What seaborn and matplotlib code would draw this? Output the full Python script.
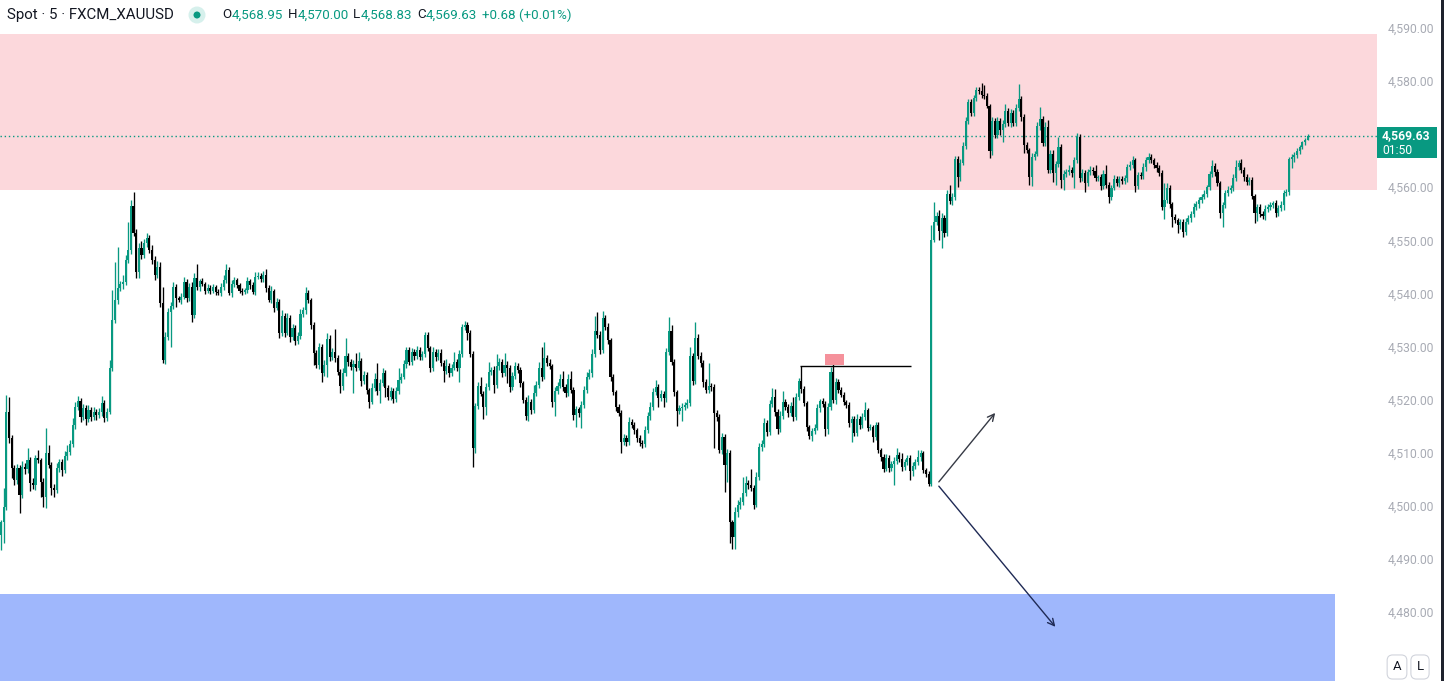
import numpy as np
import matplotlib
matplotlib.use("Agg")
import matplotlib.pyplot as plt
from matplotlib.patches import Rectangle, Ellipse
import seaborn as sns

# 5-minute XAUUSD closes left to right
closes = [
    4496.9, 4499.8, 4517.7, 4512.8, 4507.1, 4504.9, 4507.1, 4502.0, 4507.3, 4506.9,
    4508.6, 4504.3, 4503.9, 4509.0, 4508.6, 4504.5, 4501.7, 4509.9, 4507.7, 4503.4,
    4503.0, 4507.1, 4508.2, 4506.7, 4509.4, 4510.1, 4511.6, 4515.2, 4518.6, 4519.7,
    4516.7, 4518.4, 4516.3, 4518.0, 4516.7, 4517.7, 4517.1, 4517.7, 4519.4, 4516.5,
    4517.7, 4526.0, 4535.0, 4538.8, 4541.0, 4541.8, 4542.2, 4546.3, 4548.2, 4556.5,
    4551.4, 4544.0, 4548.6, 4547.2, 4549.5, 4550.4, 4548.2, 4546.3, 4543.5, 4545.0,
    4538.2, 4527.5, 4531.8, 4536.5, 4537.6, 4541.2, 4539.1, 4538.8, 4539.3, 4542.2,
    4539.1, 4541.2, 4535.9, 4542.9, 4541.2, 4542.3, 4541.8, 4540.5, 4541.0, 4540.5,
    4541.2, 4540.3, 4540.1, 4541.2, 4542.5, 4544.4, 4540.1, 4541.8, 4542.5, 4541.6,
    4540.5, 4540.3, 4540.6, 4542.3, 4541.6, 4540.3, 4543.1, 4543.3, 4542.7, 4543.5,
    4541.0, 4538.8, 4540.5, 4537.3, 4538.4, 4532.6, 4535.8, 4532.6, 4535.4, 4531.8,
    4533.5, 4531.0, 4532.0, 4536.1, 4536.9, 4540.1, 4538.8, 4534.1, 4528.8, 4526.5,
    4529.9, 4525.0, 4526.5, 4531.4, 4528.0, 4529.0, 4527.8, 4525.2, 4522.6, 4525.0,
    4528.2, 4527.1, 4526.2, 4526.7, 4526.0, 4527.3, 4523.5, 4524.6, 4521.8, 4519.6,
    4522.2, 4523.9, 4521.6, 4523.1, 4525.0, 4522.2, 4520.5, 4521.6, 4520.1, 4521.6,
    4523.7, 4524.3, 4526.7, 4529.4, 4527.1, 4529.0, 4528.2, 4529.4, 4528.0, 4528.6,
    4532.2, 4529.7, 4526.0, 4529.0, 4528.0, 4528.8, 4526.9, 4525.4, 4526.3, 4525.0,
    4526.0, 4527.1, 4526.0, 4528.6, 4533.7, 4534.1, 4532.6, 4528.6, 4510.9, 4518.8,
    4522.6, 4521.1, 4518.6, 4522.4, 4525.2, 4525.6, 4522.7, 4526.3, 4527.1, 4525.0,
    4526.5, 4526.0, 4522.4, 4524.4, 4526.3, 4525.6, 4523.1, 4519.9, 4516.9, 4519.6,
    4518.0, 4521.2, 4522.7, 4526.0, 4524.3, 4527.8, 4526.9, 4526.3, 4519.6, 4521.6,
    4522.6, 4523.9, 4522.4, 4521.2, 4523.9, 4521.8, 4517.1, 4518.2, 4517.5, 4519.0,
    4521.8, 4524.3, 4525.0, 4528.6, 4532.9, 4532.2, 4529.4, 4535.4, 4533.7, 4531.2,
    4524.3, 4521.4, 4518.6, 4517.5, 4512.0, 4512.8, 4512.0, 4515.8, 4515.2, 4514.3,
    4512.8, 4511.8, 4511.6, 4514.3, 4516.9, 4518.6, 4521.4, 4522.4, 4520.3, 4521.1,
    4520.3, 4529.0, 4532.9, 4527.1, 4521.4, 4517.9, 4518.4, 4518.6, 4519.0, 4519.4,
    4528.2, 4523.5, 4531.6, 4528.2, 4526.9, 4523.3, 4521.8, 4522.6, 4522.4, 4517.5,
    4516.7, 4510.5, 4513.0, 4507.7, 4510.0, 4497.0, 4494.1, 4498.8, 4500.2, 4500.7,
    4502.4, 4504.3, 4503.9, 4503.4, 4500.2, 4505.4, 4511.1, 4511.6, 4515.6, 4513.9,
    4519.2, 4520.5, 4517.7, 4514.5, 4516.9, 4519.6, 4518.6, 4517.5, 4518.8, 4516.7,
    4520.5, 4523.5, 4522.0, 4519.4, 4514.8, 4513.1, 4514.1, 4514.7, 4518.4, 4519.7,
    4519.2, 4514.5, 4518.6, 4525.2, 4519.9, 4523.3, 4521.8, 4520.9, 4519.6, 4519.0,
    4515.6, 4516.4, 4513.7, 4516.4, 4515.2, 4516.7, 4518.0, 4514.7, 4514.8, 4513.0,
    4515.2, 4510.5, 4509.2, 4507.0, 4509.0, 4507.1, 4507.9, 4508.4, 4509.6, 4508.8,
    4507.3, 4508.2, 4509.0, 4506.6, 4507.5, 4508.2, 4509.2, 4509.9, 4506.7, 4506.0,
    4504.1, 4550.1, 4553.5, 4554.6, 4551.8, 4554.2, 4551.4, 4558.7, 4557.4, 4558.2,
    4565.3, 4561.9, 4564.6, 4567.8, 4572.5, 4576.1, 4574.0, 4576.8, 4578.3, 4578.1,
    4577.4, 4577.2, 4575.3, 4566.8, 4572.5, 4569.8, 4572.5, 4570.8, 4571.9, 4574.4,
    4572.1, 4574.0, 4572.1, 4574.9, 4576.6, 4573.2, 4568.0, 4567.0, 4561.9, 4565.7,
    4566.3, 4571.5, 4572.9, 4568.3, 4571.4, 4563.3, 4566.3, 4562.7, 4564.4, 4567.6,
    4561.4, 4562.5, 4562.9, 4563.3, 4562.7, 4565.1, 4569.5, 4561.7, 4562.7, 4560.8,
    4562.9, 4563.3, 4563.1, 4561.7, 4561.9, 4560.2, 4562.5, 4560.4, 4558.2, 4559.9,
    4561.6, 4560.8, 4561.6, 4561.2, 4561.7, 4563.8, 4564.2, 4565.1, 4560.2, 4562.3,
    4562.1, 4563.8, 4565.1, 4565.7, 4565.1, 4564.2, 4563.6, 4562.7, 4556.3, 4557.6,
    4559.9, 4556.8, 4554.4, 4553.8, 4552.9, 4553.5, 4551.6, 4553.5, 4554.2, 4555.0,
    4556.3, 4556.8, 4557.6, 4558.2, 4558.7, 4560.0, 4562.5, 4564.0, 4562.9, 4560.8,
    4555.1, 4556.7, 4558.9, 4559.5, 4559.9, 4561.7, 4563.8, 4564.6, 4563.3, 4561.9,
    4561.0, 4561.4, 4558.4, 4555.1, 4556.3, 4555.0, 4554.6, 4555.9, 4556.3, 4556.7,
    4557.0, 4555.1, 4556.1, 4556.7, 4558.9, 4559.1, 4565.3, 4565.7, 4566.1, 4566.8,
    4567.6, 4568.5, 4568.95, 4569.63,
]
first_open = 4494.5

# wick length above / below each body
upper_wicks = [
    0.4, 3.6, 3.2, 2.8, 0.5, 0.6, 0.8, 0.5, 1.2, 0.8,
    2.3, 0.5, 0.9, 0.6, 1.5, 0.4, 0.7, 4.7, 1.5, 0.5,
    0.8, 1.0, 0.6, 0.7, 0.9, 1.3, 0.8, 1.4, 1.0, 0.9,
    0.6, 0.8, 0.5, 0.9, 0.7, 1.0, 0.6, 0.8, 1.2, 0.5,
    0.7, 1.5, 5.7, 7.2, 7.7, 0.5, 1.2, 0.9, 5.3, 1.1,
    2.6, 0.8, 0.9, 1.2, 0.8, 1.0, 0.6, 0.9, 0.7, 1.2,
    1.0, 3.0, 0.9, 0.8, 0.7, 0.9, 0.5, 0.4, 0.8, 0.9,
    0.6, 0.8, 1.0, 0.9, 2.6, 0.5, 0.6, 0.4, 0.7, 0.5,
    0.6, 0.4, 0.5, 0.8, 0.9, 1.1, 0.5, 0.7, 0.6, 0.5,
    0.4, 0.6, 0.5, 0.8, 0.4, 0.6, 0.9, 0.7, 0.5, 0.8,
    1.1, 0.5, 0.9, 0.4, 0.8, 0.6, 1.0, 0.5, 0.9, 0.6,
    0.8, 0.5, 0.7, 1.0, 0.6, 1.2, 0.5, 0.4, 0.6, 0.5,
    0.8, 0.6, 0.9, 1.1, 0.7, 0.8, 4.3, 0.6, 0.5, 0.9,
    3.4, 0.6, 0.5, 0.7, 2.1, 1.7, 0.5, 0.8, 0.6, 0.4,
    0.9, 1.1, 3.0, 0.7, 0.9, 0.5, 0.6, 0.8, 0.5, 0.7,
    2.3, 0.8, 0.7, 0.6, 0.5, 0.8, 0.6, 0.7, 0.5, 0.6,
    0.6, 0.5, 0.4, 0.9, 0.6, 0.7, 0.8, 0.5, 1.3, 0.6,
    0.7, 1.9, 0.5, 0.8, 0.6, 0.7, 0.5, 0.6, 0.5, 0.6,
    0.8, 1.7, 0.5, 0.7, 1.9, 0.6, 0.8, 2.3, 0.7, 0.6,
    2.3, 0.7, 0.5, 0.8, 0.8, 0.6, 0.5, 0.4, 0.5, 1.3,
    0.6, 1.5, 0.9, 1.1, 4.0, 3.0, 0.6, 0.7, 0.5, 0.8,
    0.7, 0.9, 1.5, 0.6, 0.9, 1.5, 0.5, 0.6, 0.5, 0.8,
    0.7, 0.9, 0.8, 1.0, 2.8, 3.6, 0.7, 1.3, 0.6, 0.8,
    0.5, 0.6, 0.4, 0.5, 0.6, 0.8, 0.5, 0.9, 0.6, 0.5,
    0.4, 0.6, 0.5, 0.8, 0.7, 0.9, 0.8, 1.3, 0.6, 0.7,
    0.6, 0.8, 2.6, 1.1, 0.5, 0.4, 0.6, 0.7, 0.5, 0.8,
    1.7, 0.6, 3.0, 0.8, 0.7, 0.5, 0.6, 4.3, 0.6, 0.5,
    0.6, 0.5, 0.8, 0.6, 0.7, 0.5, 0.4, 0.9, 0.8, 1.0,
    3.0, 1.3, 0.5, 3.0, 0.6, 0.9, 0.8, 0.7, 0.9, 0.6,
    0.8, 1.7, 1.5, 0.5, 0.9, 2.1, 0.6, 0.5, 0.7, 1.7,
    0.8, 0.6, 2.8, 0.5, 0.4, 0.5, 0.6, 0.8, 0.7, 0.5,
    0.6, 0.5, 0.8, 0.9, 2.4, 0.7, 0.6, 0.5, 0.6, 0.4,
    0.5, 0.6, 0.5, 0.9, 0.6, 0.8, 1.5, 0.5, 0.6, 0.4,
    0.6, 0.5, 0.4, 0.5, 0.7, 0.5, 0.6, 0.8, 1.3, 0.6,
    1.1, 0.7, 0.6, 0.5, 0.8, 0.7, 1.3, 0.6, 0.5, 0.4,
    0.5, 2.8, 3.8, 0.8, 1.1, 0.9, 0.6, 0.8, 1.7, 0.7,
    0.5, 0.6, 0.8, 0.7, 0.8, 0.5, 0.6, 0.5, 0.6, 0.6,
    1.5, 1.9, 0.5, 0.4, 0.7, 0.6, 0.8, 0.5, 0.7, 1.3,
    0.6, 0.8, 0.5, 0.7, 2.8, 0.5, 0.6, 0.5, 0.4, 0.7,
    0.6, 0.8, 2.3, 0.5, 0.9, 1.2, 0.7, 0.8, 0.6, 1.9,
    0.5, 0.7, 0.6, 0.8, 0.5, 0.6, 0.8, 0.5, 0.7, 0.6,
    0.5, 0.7, 0.6, 1.1, 0.5, 0.6, 0.8, 1.7, 0.5, 0.6,
    0.7, 0.5, 0.6, 0.5, 0.7, 0.6, 0.8, 0.7, 0.5, 0.6,
    0.5, 0.7, 0.6, 0.8, 0.6, 0.5, 0.6, 0.5, 0.6, 3.2,
    0.9, 0.5, 0.4, 0.5, 0.4, 0.6, 0.5, 0.7, 0.6, 0.5,
    0.7, 0.6, 0.5, 0.6, 0.7, 0.5, 0.6, 1.1, 0.5, 0.6,
    0.4, 0.6, 0.5, 0.7, 0.6, 0.8, 1.3, 0.6, 0.7, 0.5,
    0.6, 0.5, 0.6, 0.4, 0.6, 0.5, 0.6, 0.7, 0.5, 0.6,
    0.5, 0.6, 0.5, 0.7, 0.6, 0.5, 0.4, 0.5, 0.6, 0.5,
    0.4, 0.3, 0.3, 0.37,
]
lower_wicks = [
    2.8, 4.0, 0.5, 0.9, 1.9, 1.0, 0.8, 3.4, 0.6, 1.0,
    0.8, 1.5, 0.7, 0.9, 0.5, 2.9, 2.0, 2.1, 0.6, 1.3,
    1.3, 0.6, 0.8, 1.0, 0.5, 0.7, 0.6, 0.5, 0.8, 0.6,
    0.9, 0.5, 1.0, 0.6, 0.8, 0.5, 0.9, 0.6, 0.7, 0.8,
    0.6, 0.5, 0.7, 0.6, 0.8, 0.5, 0.9, 0.6, 0.5, 0.7,
    0.6, 1.0, 1.0, 0.7, 0.6, 0.8, 0.5, 0.7, 0.9, 0.6,
    0.8, 0.6, 0.8, 0.5, 6.5, 0.6, 1.7, 0.5, 0.7, 0.4,
    0.8, 0.6, 1.3, 0.6, 0.5, 0.7, 0.4, 0.6, 0.5, 0.7,
    0.5, 0.6, 0.4, 0.5, 0.6, 0.5, 0.4, 0.7, 0.5, 0.6,
    0.5, 0.6, 0.4, 0.5, 0.7, 0.5, 0.6, 0.4, 0.5, 0.6,
    0.7, 0.5, 0.6, 0.8, 0.5, 0.9, 0.6, 0.8, 0.5, 1.0,
    0.6, 0.8, 0.5, 0.6, 0.5, 0.7, 0.6, 0.8, 2.3, 0.6,
    0.7, 1.7, 0.6, 2.3, 0.7, 0.5, 0.8, 0.6, 1.3, 0.7,
    0.6, 0.8, 0.7, 4.9, 0.6, 0.5, 0.9, 0.6, 0.8, 1.1,
    0.5, 0.6, 0.7, 2.3, 0.5, 1.7, 0.6, 0.5, 0.7, 0.6,
    0.5, 0.6, 0.5, 0.7, 0.6, 0.5, 0.7, 0.6, 0.5, 0.6,
    0.5, 0.6, 0.8, 0.6, 0.7, 0.5, 0.6, 2.1, 0.5, 0.7,
    0.6, 0.5, 0.7, 2.6, 0.5, 0.6, 1.3, 0.6, 3.6, 0.9,
    0.6, 0.5, 2.3, 1.5, 0.6, 0.5, 1.5, 0.6, 0.7, 0.8,
    0.6, 2.8, 0.9, 0.5, 0.6, 0.5, 0.7, 0.6, 0.8, 0.9,
    0.7, 0.6, 0.5, 0.6, 0.7, 0.5, 0.6, 0.5, 0.9, 2.6,
    0.6, 0.5, 0.7, 0.8, 0.6, 0.5, 1.0, 2.3, 0.7, 2.8,
    0.5, 0.6, 0.5, 0.7, 0.6, 0.5, 0.8, 0.6, 0.5, 0.7,
    0.8, 0.6, 0.7, 0.5, 2.1, 0.6, 0.7, 0.5, 0.6, 0.7,
    0.8, 0.6, 0.7, 0.6, 0.5, 0.7, 0.6, 0.5, 1.7, 0.6,
    1.7, 0.8, 0.6, 0.5, 0.7, 2.8, 0.6, 2.4, 0.5, 0.6,
    0.6, 0.8, 0.5, 0.6, 0.7, 0.9, 0.6, 0.5, 0.7, 6.6,
    0.8, 0.6, 0.7, 5.1, 3.2, 4.0, 2.3, 2.3, 1.0, 0.8,
    0.6, 0.5, 0.7, 0.6, 0.8, 0.5, 0.6, 0.7, 0.5, 0.8,
    0.6, 0.5, 0.7, 0.9, 0.6, 0.5, 0.6, 0.7, 0.5, 0.8,
    0.6, 0.5, 0.7, 0.6, 0.8, 0.5, 0.9, 0.6, 0.5, 0.7,
    0.6, 1.3, 0.9, 0.6, 0.5, 0.7, 0.6, 0.5, 0.7, 0.6,
    0.8, 3.6, 0.6, 0.5, 0.7, 0.6, 0.5, 0.6, 0.5, 0.9,
    0.6, 0.5, 0.7, 0.6, 0.5, 0.7, 0.6, 4.0, 0.5, 0.6,
    0.7, 0.6, 0.5, 1.7, 0.9, 0.6, 0.5, 0.7, 0.6, 0.5,
    0.4, 0.4, 0.4, 0.6, 1.7, 3.2, 0.7, 0.6, 0.5, 0.8,
    0.6, 1.9, 0.7, 0.5, 0.6, 0.5, 0.6, 0.5, 0.6, 0.5,
    0.6, 0.5, 0.4, 1.3, 0.7, 0.6, 0.5, 0.9, 2.3, 0.6,
    0.5, 0.7, 0.6, 0.5, 0.6, 0.8, 1.5, 0.6, 1.5, 1.7,
    0.6, 0.5, 0.7, 0.6, 0.5, 0.6, 0.7, 1.7, 2.3, 0.6,
    1.5, 1.9, 0.6, 0.5, 0.7, 2.8, 0.6, 0.8, 0.5, 1.7,
    0.6, 0.5, 0.7, 0.6, 0.5, 0.7, 0.6, 0.5, 1.1, 0.6,
    0.5, 0.6, 0.7, 0.5, 0.6, 0.7, 0.5, 0.6, 1.1, 0.5,
    0.6, 0.5, 0.7, 0.6, 0.5, 0.6, 0.7, 0.5, 0.6, 2.3,
    0.6, 0.7, 1.9, 0.6, 1.5, 0.7, 0.9, 0.6, 0.5, 0.7,
    0.6, 0.5, 0.7, 0.6, 0.5, 0.6, 0.5, 0.6, 0.7, 0.6,
    0.9, 2.6, 0.7, 0.6, 0.5, 0.7, 0.6, 0.5, 0.6, 0.7,
    0.5, 0.6, 0.7, 1.9, 1.5, 0.6, 0.5, 0.7, 0.6, 0.5,
    0.6, 0.7, 0.5, 0.6, 0.9, 0.5, 0.6, 1.7, 0.9, 0.6,
    0.5, 0.4, 0.5, 0.12,
]

# drawings on the chart
supply_zone = (4559.5, 4588.9)
demand_zone = (4460.0, 4483.4)
demand_zone_end = 503.5          # bar index where the blue box stops
last_price = 4569.63
swing_high = 4526.3
swing_from, swing_to = 301.5, 343.4
marker_box = (311.0, 318.2, 4526.5, 4528.6)
arrow_start = (353.2, 4504.1)
arrow_up_end = (375.8, 4517.9)
arrow_down_end = (398.5, 4476.8)
price_ticks = list(range(4480, 4600, 10))

# legend line above the chart
ohlc_labels = ["O", "H", "L", "C"]
ohlc_values = ["4,568.95", "4,570.00", "4,568.83", "4,569.63"]
change_text = "+0.68 (+0.01%)"

UP = "#089981"
DOWN = "#000000"
INK = "#131722"
W, H = 1444, 681

sns.set_style("white")
plt.rcParams["font.family"] = ["Roboto", "DejaVu Sans"]

opens = [first_open] + closes[:-1]
o = np.array(opens)
c = np.array(closes)
highs = np.maximum(o, c) + np.array(upper_wicks)
lows = np.minimum(o, c) - np.array(lower_wicks)
idx = np.arange(len(c))
up = c >= o
colors = np.where(up, UP, DOWN)

fig = plt.figure(figsize=(W / 100, H / 100), dpi=100)
ax = fig.add_axes([0, 0, 1377 / W, 1])

# zones
ax.axhspan(*supply_zone, color="#fcd8dc", lw=0, zorder=0)
ax.add_patch(Rectangle((-5, demand_zone[0]), demand_zone_end + 5, demand_zone[1] - demand_zone[0],
                       color="#9fb7fc", lw=0, zorder=0))

# last price line
ax.axhline(last_price, color=UP, lw=1, linestyle=(0, (1, 2)), zorder=1)

# candles
ax.vlines(idx, lows, highs, colors=colors, lw=0.95, zorder=2)
body = np.maximum(np.abs(c - o), 0.18)
ax.bar(idx, body, bottom=np.minimum(o, c), width=0.8, color=colors, lw=0, zorder=3)

# swing-high ray + marker
ax.hlines(swing_high, swing_from, swing_to, color="black", lw=1, zorder=4)
x0, x1, y0, y1 = marker_box
ax.add_patch(Rectangle((x0, y0), x1 - x0, y1 - y0, color="#f5919b", lw=0, zorder=4))

# arrows
ax.annotate("", xy=arrow_up_end, xytext=arrow_start,
            arrowprops=dict(arrowstyle="->", color="#363a45", lw=1, mutation_scale=12), zorder=5)
ax.annotate("", xy=arrow_down_end, xytext=arrow_start,
            arrowprops=dict(arrowstyle="->", color="#1f2a55", lw=1, mutation_scale=12), zorder=5)

ax.set_xlim(-0.38, 519.2)
ax.set_ylim(4467.0, 4595.27)
ax.set_xticks([])
ax.yaxis.tick_right()
ax.set_yticks(price_ticks)
# the 4,570 label sits under the live price tag
ax.set_yticklabels(["" if abs(v - last_price) < 4 else f"{v:,.2f}" for v in price_ticks])
ax.tick_params(axis="y", length=0, pad=8, labelsize=8.7, labelcolor="#a8abb4")
for s in ax.spines.values():
    s.set_visible(False)


def fx(x):
    return x / W


def fy(y):
    return 1 - y / H


# price tag on the scale
fig.add_artist(Rectangle((fx(1377), fy(158)), 60 / W, 31 / H, color=UP, lw=0,
                         transform=fig.transFigure, zorder=10))
fig.text(fx(1382), fy(136), f"{last_price:,.2f}", color="white", fontsize=8.7,
         fontweight="bold", va="center", zorder=11)
fig.text(fx(1382), fy(150), "01:50", color="white", fontsize=8.7, va="center", zorder=11)

# right border
fig.add_artist(Rectangle((fx(1441), 0), 3 / W, 1, color="#1e222d", lw=0,
                         transform=fig.transFigure, zorder=10))

# header
hy = fy(15)
fig.text(fx(7), hy, "Spot · 5 · FXCM_XAUUSD", color=INK, fontsize=10.8, va="center")
fig.add_artist(Ellipse((fx(197), hy), 17 / W, 17 / H, color="#d6f0ec", lw=0,
                       transform=fig.transFigure))
fig.add_artist(Ellipse((fx(197), hy), 7 / W, 7 / H, color=UP, lw=0,
                       transform=fig.transFigure))

# O/H/L/C readout, each piece placed after the measured width of the previous one
renderer = fig.canvas.get_renderer()
x = 222
for lab, val in zip(ohlc_labels, ohlc_values):
    t = fig.text(fx(x), hy, lab, color=INK, fontsize=9.6, va="center")
    x = t.get_window_extent(renderer).x1 + 0.5
    t = fig.text(fx(x), hy, val, color=UP, fontsize=9.6, va="center")
    x = t.get_window_extent(renderer).x1 + 4.5
fig.text(fx(x), hy, change_text, color=UP, fontsize=9.6, va="center")

# A / L buttons
for lab, bx in [("A", 1397), ("L", 1420)]:
    fig.text(fx(bx), fy(667), lab, color=INK, fontsize=9.5, ha="center", va="center",
             bbox=dict(boxstyle="round,pad=0.42", fc="white", ec="#d1d4dc", lw=0.8))

fig.savefig("out.png", dpi=100)
